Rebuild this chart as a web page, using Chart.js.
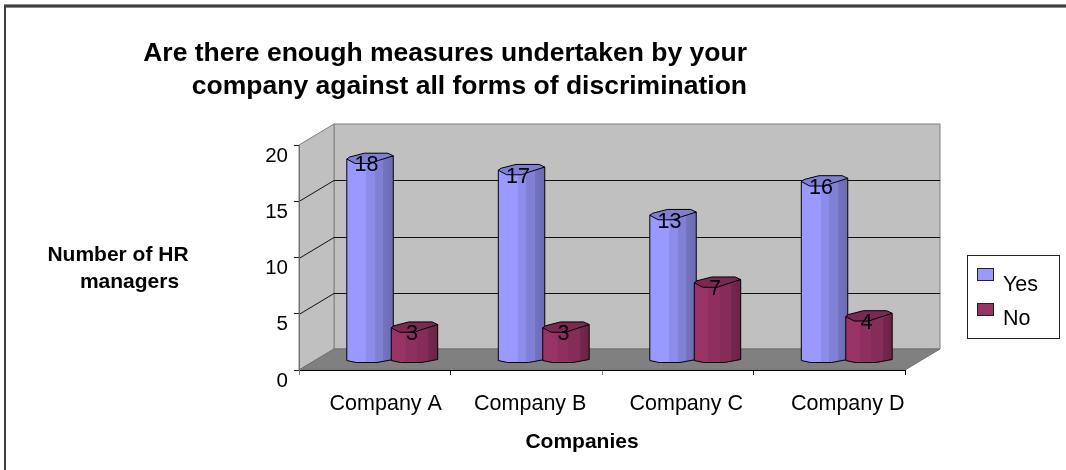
<!DOCTYPE html>
<html><head><meta charset="utf-8">
<style>html,body{margin:0;padding:0;background:#fff}canvas{display:block}</style>
<script src="https://cdn.jsdelivr.net/npm/chart.js@4/dist/chart.umd.min.js"></script>
</head><body><canvas id="c" width="1066" height="470"></canvas>
<script>
const categories = ['Company A','Company B','Company C','Company D'];
const yesValues = [18,17,13,16];
const noValues = [3,3,7,4];
const yTicks = [0,5,10,15,20];
const titleLines = ['Are there enough measures undertaken by your','company against all forms of discrimination'];
const yTitleLines = ['Number of HR','managers'];
const xTitle = 'Companies';

const FONT = '"Liberation Sans", Arial, sans-serif';
const DX = 35, DY = 21, MX = 17.5, MY = 9;
const labelShift = [11, 4, 8.5, 18.5];
const seriesShift = [1, -1];
const topFace = [[0,.5],[.06,-1.5],[.38,-5.3],[.88,-5.3],[1,-2.7],[.68,2],[.5,5],[.18,5]];
const styles = [
  {top:'#7f7fd6', stops:[[0,'#9999ff'],[.42,'#9999ff'],[.42,'#8c8ceb'],[.6,'#8c8ceb'],[.6,'#8080d6'],[.78,'#8080d6'],[.78,'#7373bf'],[1,'#6c6cb4']]},
  {top:'#7a2952', stops:[[0,'#993366'],[.3,'#993366'],[.3,'#8f2f5f'],[.55,'#8f2f5f'],[.55,'#852c59'],[.8,'#852c59'],[.8,'#75274d'],[1,'#6b2347']]}
];

function poly(ctx, pts){ctx.beginPath();pts.forEach((p,i)=>i?ctx.lineTo(p[0],p[1]):ctx.moveTo(p[0],p[1]));ctx.closePath();}

const scene = {
  id:'scene',
  afterLayout(chart){
    chart.titleBlock.right = 747;
    const x = chart.scales.x;
    x.getLabelItems().forEach((it,i)=>{it.options.translation[0]+=labelShift[i];});
  },
  beforeDraw(chart){
    const {ctx,scales:{x,y}} = chart;
    const L=x.left,R=x.right,T=y.top,B=y.bottom;
    ctx.save();
    // frame
    ctx.fillStyle='#8a8a8a';ctx.fillRect(4,4,1062,4);
    ctx.fillStyle='#404040';ctx.fillRect(4,5,1062,2);
    ctx.fillRect(4,5,2,465);
    // walls
    ctx.lineWidth=1;ctx.strokeStyle='#808080';
    ctx.fillStyle='#c0c0c0';
    poly(ctx,[[L+DX,T-DY],[R+DX,T-DY],[R+DX,B-DY],[L+DX,B-DY]]);ctx.fill();ctx.stroke();
    poly(ctx,[[L,T],[L+DX,T-DY],[L+DX,B-DY],[L,B]]);ctx.fill();ctx.stroke();
    ctx.fillStyle='#808080';
    poly(ctx,[[L,B],[R,B],[R+DX,B-DY],[L+DX,B-DY]]);ctx.fill();
    ctx.strokeStyle='#707070';ctx.stroke();
    // grid
    ctx.strokeStyle='#111';
    yTicks.slice(1,-1).forEach(v=>{
      const py=Math.round(y.getPixelForValue(v))+.5;
      ctx.beginPath();ctx.moveTo(L,py);ctx.lineTo(L+DX,py-DY);ctx.lineTo(R+DX,py-DY);ctx.stroke();
    });
    ctx.restore();
  },
  beforeDatasetsDraw(chart){
    const {ctx} = chart;
    const n = chart.data.labels.length;
    for(let i=0;i<n;i++){
      chart.data.datasets.forEach((ds,d)=>{
        const el = chart.getDatasetMeta(d).data[i];
        const w = el.width + 1, l = el.x - el.width/2 + MX + seriesShift[d] - (d===0?1:0) + (d===0?0:0), base = el.base - 12, top = el.y - MY;
        const st = styles[d];
        const pt = (arr,yy)=>arr.map(p=>[l+p[0]*w,yy+p[1]]);
        const bodyPts = [[l,top+.5],[l,base+3],[l+.2*w,base+5],[l+.65*w,base+5],[l+w,base+2],[l+w,top-2.7]];
        const g = ctx.createLinearGradient(l,0,l+w,0);
        st.stops.forEach(s=>g.addColorStop(s[0],s[1]));
        ctx.save();
        ctx.lineWidth=1;ctx.strokeStyle='#000';ctx.lineJoin='round';
        ctx.fillStyle=g;poly(ctx,bodyPts);ctx.fill();ctx.stroke();
        ctx.fillStyle=st.top;poly(ctx,pt(topFace,top));ctx.fill();ctx.stroke();
        ctx.restore();
      });
    }
    chart.data.datasets.forEach((ds,d)=>{
      chart.getDatasetMeta(d).data.forEach((el,i)=>{
        ctx.save();
        ctx.font='21.5px '+FONT;ctx.fillStyle='#000';ctx.textAlign='center';ctx.textBaseline='middle';
        ctx.fillText(String(ds.data[i]),el.x+14.5,el.y-2);
        ctx.restore();
      });
    });
    return false;
  },
  afterDraw(chart){
    const {ctx} = chart;
    ctx.save();
    ctx.fillStyle='#000';ctx.textAlign='center';ctx.textBaseline='middle';
    ctx.font='bold 21px '+FONT;
    ctx.fillText(yTitleLines[0],118,255);
    ctx.fillText(yTitleLines[1],129.5,282);
    ctx.fillText(xTitle,582,442);
    // legend
    ctx.fillStyle='#fff';ctx.strokeStyle='#222';ctx.lineWidth=1;
    ctx.fillRect(967.5,255.5,92,83);ctx.strokeRect(967.5,255.5,92,83);
    const sw=[[977.5,268.5],[977.5,303.5]], ty=[285,319];
    chart.data.datasets.forEach((ds,d)=>{
      ctx.fillStyle=ds.backgroundColor;ctx.strokeStyle='#222';
      ctx.fillRect(sw[d][0],sw[d][1],16,12);ctx.strokeRect(sw[d][0],sw[d][1],16,12);
      ctx.fillStyle='#000';ctx.textAlign='left';ctx.font='21.5px '+FONT;
      ctx.fillText(ds.label,1003,ty[d]);
    });
    ctx.restore();
  }
};

new Chart(document.getElementById('c'),{
  type:'bar',
  data:{labels:categories,datasets:[
    {label:'Yes',data:yesValues,backgroundColor:'#9999ff'},
    {label:'No',data:noValues,backgroundColor:'#993366'}
  ]},
  plugins:[scene],
  options:{
    responsive:false,animation:false,
    devicePixelRatio:1,
    layout:{padding:{left:0,right:161,top:0,bottom:0}},
    datasets:{bar:{barPercentage:1,categoryPercentage:.6}},
    plugins:{
      legend:{display:false},
      tooltip:{enabled:false},
      title:{display:true,text:titleLines,align:'end',color:'#000',
        font:{family:FONT,size:26.5,weight:'bold',lineHeight:33/26.5},
        padding:{top:37,bottom:42}}
    },
    scales:{
      x:{
        afterFit(s){s.height=100;},
        grid:{drawOnChartArea:false,offset:true,tickLength:5,tickColor:['#808080','#222','#808080','#222','#808080']},
        border:{color:'#000',width:1},
        ticks:{color:'#000',font:{family:FONT,size:21.5},padding:16,maxRotation:0,autoSkip:false}
      },
      y:{
        min:0,max:20,
        afterFit(s){s.width=299;},
        grid:{drawOnChartArea:false,tickLength:5,tickColor:'#222'},
        border:{color:'#707070',width:1},
        ticks:{stepSize:5,color:'#000',font:{family:FONT,size:20.5},padding:6,labelOffset:11}
      }
    }
  }
});
</script></body></html>
